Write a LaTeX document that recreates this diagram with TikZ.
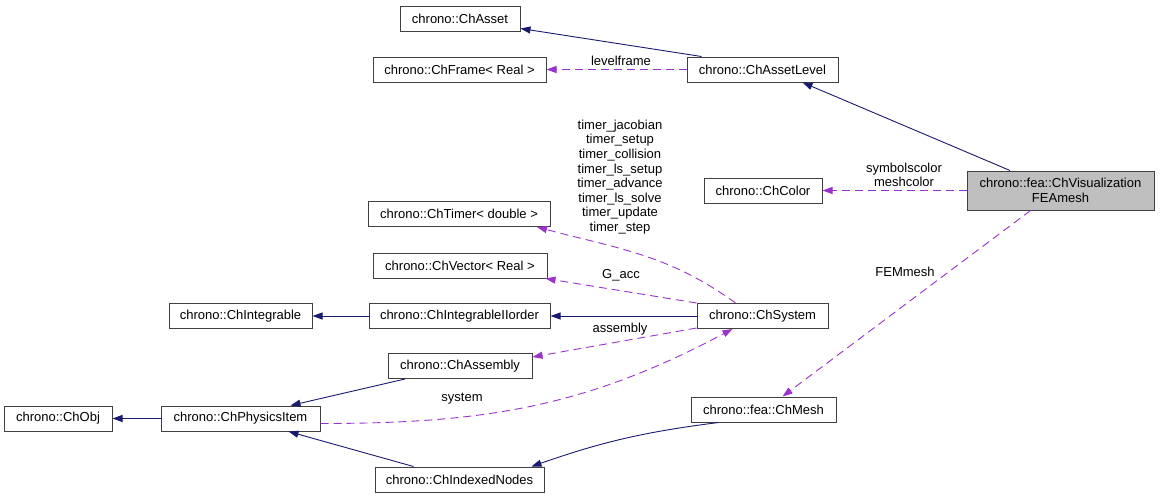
\documentclass[tikz,border=0pt]{standalone}
\usepackage{fontspec}
\setmainfont{Liberation Sans}
\usetikzlibrary{arrows.meta}

\definecolor{inhcol}{HTML}{191970}
\definecolor{usecol}{HTML}{9A32CD}
\definecolor{mainfill}{HTML}{BFBFBF}

\tikzset{
  cls/.style={draw=black!75, line width=1pt, minimum height=25pt, inner sep=0pt, font=\fontsize{13}{14.6}\selectfont},
  inh/.style={draw=inhcol, line width=0.9pt, -{Triangle[length=10pt,width=7pt]}},
  use/.style={draw=usecol, line width=0.9pt, dash pattern=on 8pt off 5pt, -{Triangle[length=10pt,width=7pt]}},
  lbl/.style={font=\fontsize{13}{14.6}\selectfont, inner sep=0pt, align=center},
}

\begin{document}
\begin{tikzpicture}[x=1pt,y=1pt]
			%%%%% START %%%%%
			\useasboundingbox (0,0) rectangle (1160,-499);
			
			\node[cls, minimum width=120pt] (asset) at (460,-18.5) {chrono::ChAsset};
			\node[cls, minimum width=173pt] (frame) at (459.5,-69.5) {chrono::ChFrame< Real >};
			\node[cls, minimum width=151pt] (level) at (762.5,-69.5) {chrono::ChAssetLevel};
			\node[cls, minimum width=118pt] (color) at (763,-190.5) {chrono::ChColor};
			\node[cls, fill=mainfill, minimum width=187pt, minimum height=39pt, align=center] (fea) at (1060.5,-190.5) {chrono::fea::ChVisualization\\FEAmesh};
			\node[cls, minimum width=182pt] (timer) at (459,-214) {chrono::ChTimer< double >};
			\node[cls, minimum width=174pt] (vector) at (460,-265.5) {chrono::ChVector< Real >};
			\node[cls, minimum width=143pt] (integrable) at (240.5,-316) {chrono::ChIntegrable};
			\node[cls, minimum width=181pt] (iiorder) at (459.5,-316) {chrono::ChIntegrableIIorder};
			\node[cls, minimum width=131pt] (system) at (762.5,-316) {chrono::ChSystem};
			\node[cls, minimum width=144pt] (assembly) at (460,-366) {chrono::ChAssembly};
			\node[cls, minimum width=108pt] (obj) at (58,-418.5) {chrono::ChObj};
			\node[cls, minimum width=159pt] (physics) at (240.5,-418.5) {chrono::ChPhysicsItem};
			\node[cls, minimum width=145pt] (mesh) at (763.5,-409.5) {chrono::fea::ChMesh};
			\node[cls, minimum width=169pt] (indexed) at (459.5,-479.5) {chrono::ChIndexedNodes};
			
			% inheritance
			\draw[inh] ([xshift=15pt]level.north west) -- ([yshift=3pt]asset.south east);
			\draw[inh] ([xshift=-50.5pt]fea.north) -- ([xshift=40pt]level.south);
			\draw[inh] (system.west) -- (iiorder.east);
			\draw[inh] (iiorder.west) -- (integrable.east);
			\draw[inh] (physics.west) -- (obj.east);
			\draw[inh] ([xshift=-55pt]assembly.south) -- ([xshift=50pt]physics.north);
			\draw[inh] ([xshift=-46pt]indexed.north) -- ([xshift=48pt]physics.south);
			\draw[inh] ([xshift=-45pt]mesh.south) to[bend right=6] ([xshift=72pt]indexed.north);
			
			% members
			\draw[use] (level.west) -- (frame.east);
			\draw[use] (fea.west) -- (color.east);
			\draw[use] ([xshift=-30pt]fea.south) -- ([xshift=19pt]mesh.north);
			\draw[use] ([xshift=-27pt]system.north) to[out=144,in=-15] ([xshift=78pt]timer.south);
			\draw[use] (system.north west) -- ([xshift=-2pt]vector.south east);
			\draw[use] ([yshift=1pt]system.south west) -- ([yshift=9pt]assembly.east);
			\draw[use] ([yshift=-5pt]physics.east) to[out=0,in=-152] ([xshift=-30pt]system.south);
			
			\node[lbl] (lblframe) at (621,-61) {levelframe};
			\node[lbl] (lblcolor) at (904,-175) {symbolscolor\\meshcolor};
			\node[lbl] (lblmesh) at (905,-272) {FEMmesh};
			\node[lbl] (lbltimer) at (620,-177) {timer\_jacobian\\timer\_setup\\timer\_collision\\timer\_ls\_setup\\timer\_advance\\timer\_ls\_solve\\timer\_update\\timer\_step};
			\node[lbl] (lblgacc) at (621,-275) {G\_acc};
			\node[lbl] (lblassembly) at (620,-329) {assembly};
			\node[lbl] (lblsystem) at (462,-399) {system};
			%%%%% END %%%%%
\end{tikzpicture}
\end{document}
